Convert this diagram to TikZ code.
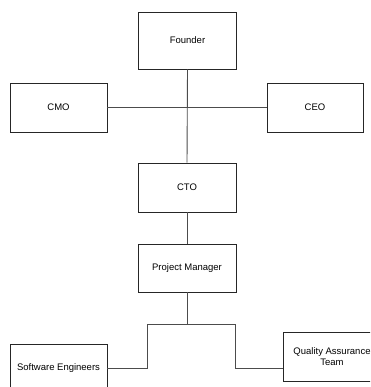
\documentclass[tikz,border=0pt]{standalone}
\usepackage{fontspec}
\setmainfont{Liberation Sans}
\usetikzlibrary{arrows,shapes,calc,positioning}

\begin{document}
\begin{tikzpicture}[x=1pt, y=-1pt,
		rolebox/.style={draw=black!85, line width=0.8pt, fill=white, inner sep=0pt, minimum width=98pt, minimum height=49pt, align=center, font=\fontsize{9.5}{11}\selectfont},
		link/.style={draw=black!70, line width=0.9pt}]
		\useasboundingbox (0,0) rectangle (370,387);
		\clip (0,0) rectangle (370,387);
		% top of the chart
		\node [rolebox, minimum height=57pt] (founder) at (187.5,40.5) {Founder};
		\node [rolebox, minimum width=97pt] (cmo) at (58.5,107.5) {CMO};
		\node [rolebox, minimum width=96pt] (ceo) at (315,107.5) {CEO};
		\node [rolebox] (cto) at (187,187.5) {CTO};
		\node [rolebox, minimum height=48pt] (pm) at (187,268) {Project Manager};
		% teams
		\node [rolebox, minimum width=97pt] (swe) at (58.5,368.5) {Software Engineers};
		\node [rolebox] (qa) at (332,356.5) {Quality Assurance\\Team};
		\coordinate (split) at (187,324);
		\coordinate (leftbend) at (147,324);
		\coordinate (rightbend) at (235,324);
		\draw [link] (founder.south) -- (cto.north);
		\draw [link] (cmo.east) -- (ceo.west);
		\draw [link] (cto.south) -- (pm.north);
		\draw [link] (pm.south) -- (split);
		\draw [link] (swe.east) -| (leftbend) -- (rightbend) |- (swe.east -| qa.west);
\end{tikzpicture}
\end{document}
